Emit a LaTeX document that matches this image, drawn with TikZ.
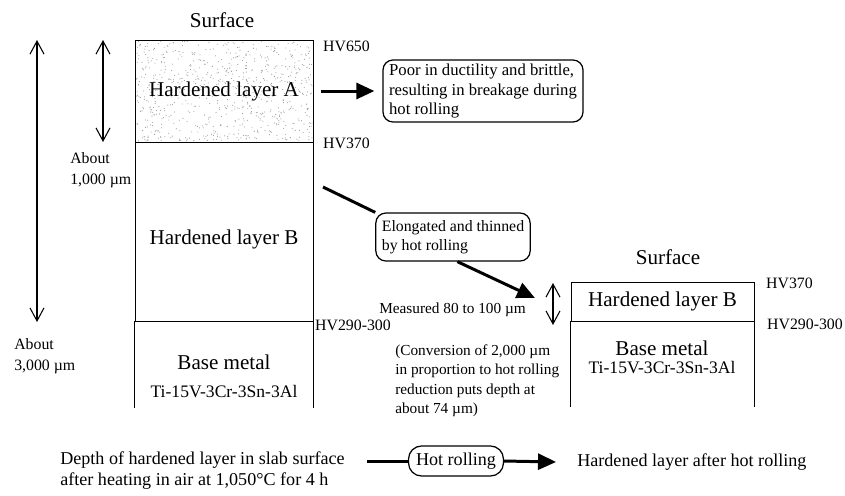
\documentclass[tikz,border=0pt]{standalone}
\usepackage{fontspec}
\setmainfont{Liberation Serif}
\usetikzlibrary{arrows.meta,positioning}

\begin{document}
\begin{tikzpicture}[x=0.2mm, y=-0.2mm, line width=0.5pt,
    bigarrow/.style={-{Triangle[length=3.6mm, width=3.2mm]}, line width=1.7pt},
    dimarrow/.style={{Straight Barb[length=2.6mm, width=2.8mm]}-{Straight Barb[length=2.6mm, width=2.8mm]}, line width=0.6pt},
    note/.style={draw, rounded corners=2mm, align=left, inner xsep=1.2mm, inner ysep=0.6mm, line width=0.7pt},
    layer/.style={draw, inner sep=0pt, font=\fontsize{12}{14}\selectfont},
    big/.style={font=\fontsize{12}{14}\selectfont},
    alloy/.style={font=\fontsize{10}{12}\selectfont},
    hv/.style={anchor=west, inner sep=1pt, font=\fontsize{9}{11}\selectfont},
    small/.style={align=left, font=\fontsize{9}{12}\selectfont}]

    \useasboundingbox (0,0) rectangle (845,495);

    % Speckle of hardened layer A
    \pgfmathsetseed{42}
    \foreach \i in {1,...,750} {
        \pgfmathsetmacro{\sx}{136+176*rnd}
        \pgfmathsetmacro{\sy}{41+100*rnd}
        \fill[black!40] (\sx,\sy) circle (0.11mm);
    }

    % Slab before hot rolling
    \node[big] (surfL) at (222,20) {Surface};
    \node[layer, minimum width=35.6mm, minimum height=20.4mm] (layerA) at (224,91) {Hardened layer A};
    \node[layer, minimum width=35.6mm, minimum height=35.8mm,
          label={[big, yshift=-1.6mm]center:Hardened layer B}] (layerB) at (224,231.5) {};
    \draw (layerB.south west) -- ++(0,87);
    \draw (layerB.south east) -- ++(0,87);
    \node[big] (baseL) at (224,362) {Base metal};
    \node[alloy] (alloyL) at (224,392) {Ti-15V-3Cr-3Sn-3Al};

    % Depths
    \coordinate (totTop) at (37,40);
    \coordinate (totBot) at (37,322);
    \draw[dimarrow] (totTop) -- (totBot);
    \coordinate (aTop) at (103,40);
    \coordinate (aBot) at (103,142);
    \draw[dimarrow] (aTop) -- (aBot);
    \node[small, anchor=north west] (about1) at (64,146) {About\\1,000 µm};
    \node[small, anchor=north west] (about3) at (8,332) {About\\3,000 µm};

    % Hardness
    \node[hv] (hv650) at (321,46) {HV650};
    \node[hv] (hv370L) at (321,143) {HV370};
    \node[hv] (hv290L) at (313,325) {HV290-300};

    % Layer A breaks
    \node[note, font=\fontsize{9.5}{11}\selectfont, minimum width=40mm, minimum height=12.4mm] (poorBox) at (483,91)
        {Poor in ductility and brittle,\\resulting in breakage during\\hot rolling};
    \draw[bigarrow, shorten <=1.6mm, shorten >=1.6mm] (layerA) -- (poorBox);

    % Layer B thinned
    \node[note, font=\fontsize{9}{11}\selectfont, minimum width=30.4mm, minimum height=9.6mm] (elongBox) at (453,237)
        {Elongated and thinned\\by hot rolling};
    \coordinate (elongStart) at (323,187);
    \coordinate (elongEnd) at (535,298);
    \draw[line width=1.7pt] (elongStart) -- (elongBox.north west);
    \draw[bigarrow] (elongBox.-80) -- (elongEnd);

    \node[anchor=east, font=\fontsize{8.7}{11}\selectfont] (measured) at (532,310) {Measured 80 to 100 µm};
    \coordinate (thinTop) at (553,283);
    \coordinate (thinBot) at (553,325);
    \draw[dimarrow] (thinTop) -- (thinBot);
    \node[anchor=north west, align=left, font=\fontsize{8.7}{11.1}\selectfont] (conv) at (389,338)
        {(Conversion of 2,000 µm\\in proportion to hot rolling\\reduction puts depth at\\about 74 µm)};

    % Slab after hot rolling
    \node[big] (surfR) at (668,257) {Surface};
    \node[layer, minimum width=36.6mm, minimum height=7.8mm] (thinB) at (662.5,301.5) {Hardened layer B};
    \draw (thinB.south west) -- ++(0,86);
    \draw (thinB.south east) -- ++(0,86);
    \node[big] (baseR) at (662,348) {Base metal};
    \node[alloy] (alloyR) at (662,368) {Ti-15V-3Cr-3Sn-3Al};
    \node[hv] (hv370R) at (764,283) {HV370};
    \node[hv] (hv290R) at (765,324) {HV290-300};

    % Legend
    \node[anchor=west, align=left, font=\fontsize{10.3}{12}\selectfont] (depth) at (54,470.5)
        {Depth of hardened layer in slab surface\\after heating in air at 1,050°C for 4 h};
    \node[draw, rounded corners=2.6mm, line width=0.7pt, font=\fontsize{10.3}{12}\selectfont,
          minimum height=6mm, inner xsep=1.5mm] (hotBox) at (456,461) {Hot rolling};
    \coordinate (hotStart) at (367,461);
    \draw[line width=1.7pt] (hotStart) -- (hotBox);
    \node[anchor=west, font=\fontsize{10.3}{12}\selectfont] (after) at (571,462) {Hardened layer after hot rolling};
    \draw[bigarrow] (hotBox.east) -- ([xshift=-3mm]after.west);

\end{tikzpicture}
\end{document}
